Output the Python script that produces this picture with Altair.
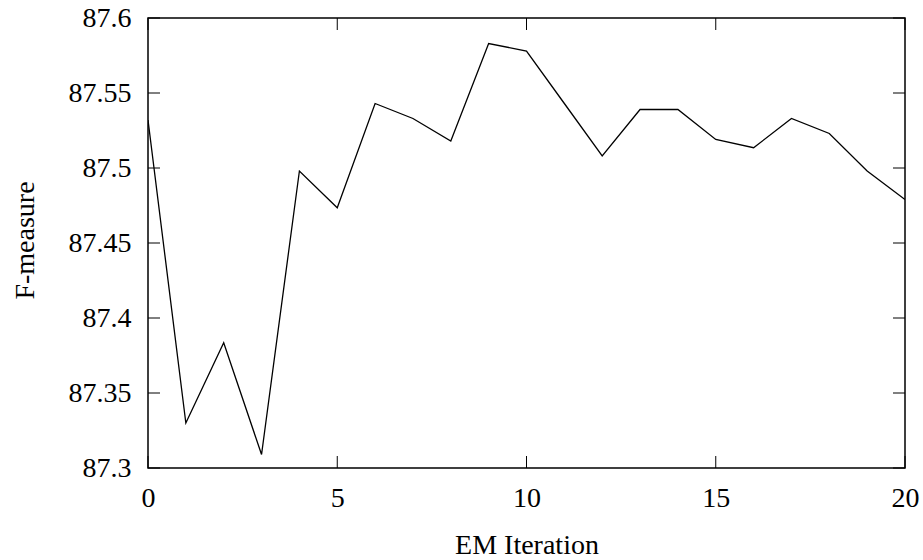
import altair as alt
import pandas as pd

iterations = list(range(0, 21))
fmeasure = [87.532, 87.330, 87.3835, 87.309, 87.498, 87.4735, 87.543, 87.533,
            87.518, 87.583, 87.578, 87.543, 87.508, 87.539, 87.539, 87.519,
            87.5135, 87.533, 87.523, 87.498, 87.479]
xticks = [0, 5, 10, 15, 20]
yticks = [87.3, 87.35, 87.4, 87.45, 87.5, 87.55, 87.6]

W, H = 757, 450
TL = 12
FONT = "Liberation Serif"
FS = 28

df = pd.DataFrame({"it": iterations, "f": fmeasure})
dx = pd.DataFrame({"it": xticks})
dy = pd.DataFrame({"f": yticks})

xscale = alt.Scale(domain=[0, 20], nice=False, zero=False)
yscale = alt.Scale(domain=[87.3, 87.6], nice=False, zero=False)

xaxis = alt.Axis(values=xticks, format="d", ticks=False, domain=False, grid=False,
                 labelFont=FONT, labelFontSize=FS, labelColor="black",
                 labelPadding=16, labelFlush=False, titleFont=FONT, titleFontSize=FS,
                 titleFontWeight="normal", titleColor="black",
                 titleBaseline="middle", titleY=77)
yaxis = alt.Axis(values=yticks, format="~g", ticks=False, domain=False, grid=False,
                 labelFont=FONT, labelFontSize=FS, labelColor="black",
                 labelPadding=17, labelFlush=False, titleFont=FONT, titleFontSize=FS,
                 titleFontWeight="normal", titleColor="black",
                 titleAngle=-90, titleBaseline="middle", titleX=-123, titleY=H / 2 - 3)

X = alt.X("it:Q", scale=xscale, title="EM Iteration", axis=xaxis)
Y = alt.Y("f:Q", scale=yscale, title="F-measure", axis=yaxis)

line = alt.Chart(df).mark_line(color="black", strokeWidth=1.3, clip=True).encode(x=X, y=Y)

tick_left = alt.Chart(dy).mark_rule(color="black", strokeWidth=1).encode(
    y=Y, x=alt.value(0), x2=alt.value(TL))
tick_right = alt.Chart(dy).mark_rule(color="black", strokeWidth=1).encode(
    y=Y, x=alt.value(W - TL), x2=alt.value(W))
tick_bottom = alt.Chart(dx).mark_rule(color="black", strokeWidth=1).encode(
    x=X, y=alt.value(H - TL), y2=alt.value(H))
tick_top = alt.Chart(dx).mark_rule(color="black", strokeWidth=1).encode(
    x=X, y=alt.value(0), y2=alt.value(TL))

chart = alt.layer(line, tick_left, tick_right, tick_bottom, tick_top).properties(
    width=W, height=H,
    autosize=alt.AutoSizeParams(type="none"),
    padding={"left": 148, "top": 18, "right": 18, "bottom": 92},
    background="white",
).configure_view(stroke="black", strokeWidth=1.5)

chart.save("out.html", embed_options={"renderer": "svg", "actions": False})
